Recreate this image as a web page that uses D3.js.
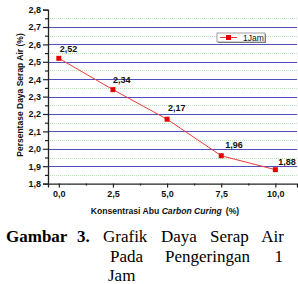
<!DOCTYPE html>
<html>
<head>
<meta charset="utf-8">
<script src="https://cdn.jsdelivr.net/npm/d3@7"></script>
<style>
body { margin: 0; background: #fff; }
svg { display: block; }
.sans { font-family: "Liberation Sans", Arial, sans-serif; }
.serif { font-family: "Liberation Serif", "Times New Roman", serif; }
</style>
</head>
<body>
<script>
var width = 298, height = 284;

// data
var konsentrasi = [0, 2.5, 5, 7.5, 10];
var serapAir = [2.52, 2.34, 2.17, 1.96, 1.88];
var labelNilai = ["2,52", "2,34", "2,17", "1,96", "1,88"];
var xTicks = [0, 2.5, 5, 7.5, 10];
var xMinorTicks = [1.25, 3.75, 6.25, 8.75];
var yTicks = [1.8, 1.9, 2.0, 2.1, 2.2, 2.3, 2.4, 2.5, 2.6, 2.7, 2.8];
var yMinorTicks = [1.85, 1.95, 2.05, 2.15, 2.25, 2.35, 2.45, 2.55, 2.65, 2.75];
var seriesName = "1Jam";

var fmt = function(v, d) { return v.toFixed(d).replace(".", ","); };

var svg = d3.select("body")
.append("svg")
.attr("width", width)
.attr("height", height);

var x = d3.scaleLinear()
.domain([-0.5, 11])
.range([48, 297]);

var y = d3.scaleLinear()
.domain([1.8, 2.8])
.range([183.6, 9.6]);

//grid: green dotted for halves, blue for tenths
svg.selectAll(".gridMinor")
.data(yMinorTicks)
.enter()
.append("line")
.attr("class", "gridMinor")
.attr("x1", x(-0.5))
.attr("x2", x(11))
.attr("y1", function(d) { return Math.round(y(d)) + 0.5; })
.attr("y2", function(d) { return Math.round(y(d)) + 0.5; })
.attr("stroke", "#b4e8b0")
.attr("stroke-width", 1)
.attr("stroke-dasharray", "1,1");

svg.selectAll(".gridMajor")
.data(yTicks.filter(function(d) { return d > 1.8 && d < 2.8; }))
.enter()
.append("line")
.attr("class", "gridMajor")
.attr("x1", x(-0.5))
.attr("x2", x(11))
.attr("y1", function(d) { return Math.round(y(d)) + 0.5; })
.attr("y2", function(d) { return Math.round(y(d)) + 0.5; })
.attr("stroke", "#4f4fbc")
.attr("stroke-width", 1);

//y axis
var yAxis = d3.axisLeft(y)
.tickValues(yTicks)
.tickSize(5)
.tickPadding(2)
.tickFormat(function(d) { return fmt(d, 1); });

svg.append("g")
.attr("transform", "translate(" + x(-0.5) + ",0)")
.call(yAxis);

svg.append("g")
.attr("transform", "translate(" + x(-0.5) + ",0)")
.call(d3.axisLeft(y).tickValues(yMinorTicks).tickSize(3).tickFormat(""))
.select(".domain").remove();

//x axis
var xAxis = d3.axisBottom(x)
.tickValues(xTicks)
.tickSize(4)
.tickPadding(3)
.tickFormat(function(d) { return fmt(d, 1); });

svg.append("g")
.attr("transform", "translate(0," + y(1.8) + ")")
.call(xAxis);

svg.append("g")
.attr("transform", "translate(0," + y(1.8) + ")")
.call(d3.axisBottom(x).tickValues(xMinorTicks).tickSize(2).tickFormat(""))
.select(".domain").remove();

svg.selectAll(".domain")
.attr("stroke", "#222")
.attr("stroke-width", 1.3);

svg.selectAll(".tick line")
.attr("stroke", "#222")
.attr("stroke-width", 1.2);

svg.selectAll(".tick text")
.attr("class", "sans")
.attr("fill", "#111")
.style("font-size", "9px")
.style("font-weight", "bold");

svg.selectAll("g").attr("font-family", null);

//series line
var line = d3.line()
.x(function(d, i) { return x(konsentrasi[i]); })
.y(function(d) { return y(d); });

svg.append("path")
.datum(serapAir)
.attr("d", line)
.attr("fill", "none")
.attr("stroke", "#f03a3a")
.attr("stroke-width", 1);

svg.selectAll(".marker")
.data(serapAir)
.enter()
.append("rect")
.attr("class", "marker")
.attr("x", function(d, i) { return x(konsentrasi[i]) - 2.5; })
.attr("y", function(d) { return y(d) - 2.5; })
.attr("width", 5)
.attr("height", 5)
.attr("fill", "#e80000");

//value labels
var labelDx = [1, 0, 1, 4, 3];
var labelDy = [-6, -7, -8, -8, -5];
svg.selectAll(".nilai")
.data(serapAir)
.enter()
.append("text")
.attr("class", "nilai sans")
.attr("x", function(d, i) { return x(konsentrasi[i]) + labelDx[i]; })
.attr("y", function(d, i) { return y(d) + labelDy[i]; })
.text(function(d, i) { return labelNilai[i]; })
.attr("fill", "#111")
.style("font-size", "9px")
.style("font-weight", "bold");

//legend
var legend = svg.append("g")
.attr("transform", "translate(217,33)");

legend.append("rect")
.attr("x", 1)
.attr("y", 1)
.attr("width", 48)
.attr("height", 9)
.attr("fill", "#777");

legend.append("rect")
.attr("x", 0)
.attr("y", 0)
.attr("width", 48)
.attr("height", 9)
.attr("fill", "#fff")
.attr("stroke", "#888")
.attr("stroke-width", 0.8);

legend.append("line")
.attr("x1", 3)
.attr("x2", 20)
.attr("y1", 4.5)
.attr("y2", 4.5)
.attr("stroke", "#f03a3a")
.attr("stroke-width", 1);

legend.append("rect")
.attr("x", 9)
.attr("y", 2)
.attr("width", 5)
.attr("height", 5)
.attr("fill", "#e80000");

legend.append("text")
.attr("class", "sans")
.attr("x", 26)
.attr("y", 7.8)
.text(seriesName)
.attr("fill", "#111")
.style("font-size", "8.5px");

//axis titles
svg.append("text")
.attr("class", "sans")
.attr("transform", "translate(23,95) rotate(-90)")
.attr("text-anchor", "middle")
.text("Persentase Daya Serap Air (%)")
.attr("fill", "#111")
.style("font-size", "8.5px")
.style("font-weight", "bold");

var xTitle = svg.append("text")
.attr("class", "sans")
.attr("x", 165)
.attr("y", 214)
.attr("text-anchor", "middle")
.attr("fill", "#111")
.style("font-size", "8.6px")
.style("font-weight", "bold");
xTitle.append("tspan").text("Konsentrasi Abu ");
xTitle.append("tspan").style("font-style", "italic").text("Carbon Curing");
xTitle.append("tspan").attr("dx", 4).text("(%)");

//caption below the chart
var caption = [
  {t: "Gambar", x: 6, y: 242, b: true},
  {t: "3.", x: 77, y: 242, b: true},
  {t: "Grafik", x: 103, y: 242},
  {t: "Daya", x: 161, y: 242},
  {t: "Serap", x: 210, y: 242},
  {t: "Air", x: 284, y: 242, end: true},
  {t: "Pada", x: 110, y: 262},
  {t: "Pengeringan", x: 165, y: 262},
  {t: "1", x: 283, y: 262, end: true},
  {t: "Jam", x: 108, y: 281}
];

svg.selectAll(".caption")
.data(caption)
.enter()
.append("text")
.attr("class", "caption serif")
.attr("x", function(d) { return d.x; })
.attr("y", function(d) { return d.y; })
.attr("text-anchor", function(d) { return d.end ? "end" : "start"; })
.text(function(d) { return d.t; })
.attr("fill", "#000")
.style("font-size", "17px")
.style("font-weight", function(d) { return d.b ? "bold" : "normal"; });
</script>
</body>
</html>
